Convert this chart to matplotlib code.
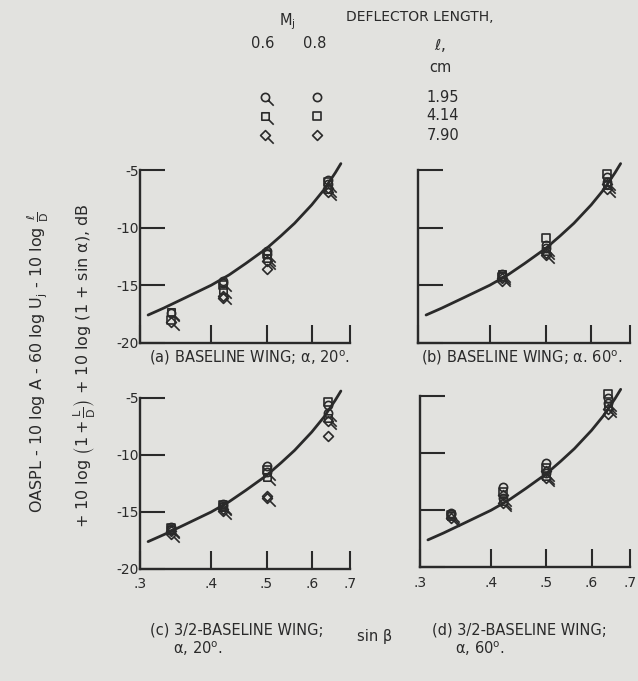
import numpy as np
import matplotlib
matplotlib.use('Agg')
import matplotlib.pyplot as plt
from matplotlib.path import Path

plt.rcParams['font.family'] = ['DejaVu Sans']
plt.rcParams['mathtext.fontset'] = 'dejavusans'

INK = '#2a2a2a'
PAPER = '#e2e2df'

# faired curve, same on every panel
curve_sin = [0.31, 0.33, 0.36, 0.40, 0.43, 0.46, 0.50, 0.53, 0.56, 0.60, 0.63, 0.66, 0.675]
curve_db = [-17.6, -17.0, -16.1, -15.0, -14.1, -13.1, -11.8, -10.7, -9.6, -8.0, -6.7, -5.2, -4.4]

stations = [0.34, 0.42, 0.50, 0.64]
nan = np.nan

# order of each list: Mj 0.6 (circle, square, diamond), Mj 0.8 (circle, square, diamond)
panel_a = [[-17.4, -14.8, -12.3, -6.2], [-17.3, -15.4, -12.6, -6.6], [-18.2, -15.9, -12.9, -6.9],
           [nan, -14.6, -12.0, -5.8], [-18.0, -15.0, -12.3, -6.0], [nan, -16.1, -13.6, -6.5]]
panel_b = [[nan, -14.2, -11.8, -6.0], [nan, -14.0, -12.0, -6.3], [nan, -14.4, -12.4, -6.6],
           [nan, -14.0, -11.5, -5.6], [nan, -14.3, -10.9, -5.3], [nan, -14.6, -12.2, -6.2]]
panel_c = [[-16.5, -14.5, -11.5, -6.3], [-16.6, -14.6, -11.9, -6.8], [-16.9, -14.9, -13.8, -7.0],
           [-16.3, -14.3, -11.0, -5.6], [-16.4, -14.4, -11.3, -5.4], [-16.7, -14.7, -13.6, -8.3]]
panel_d = [[-15.3, -13.9, -11.7, -5.6], [-15.5, -14.2, -12.0, -5.9], [-15.7, -14.4, -12.2, -6.1],
           [-15.2, -13.0, -10.9, -5.2], [-15.4, -13.4, -11.3, -4.8], [nan, -13.7, -11.6, -6.6]]

captions = ['(a) BASELINE WING; α, 20$^\\mathrm{o}$.',
            '(b) BASELINE WING; α. 60$^\\mathrm{o}$.',
            '(c) 3/2-BASELINE WING;\n     α, 20$^\\mathrm{o}$.',
            '(d) 3/2-BASELINE WING;\n     α, 60$^\\mathrm{o}$.']
legend_lengths = ['1.95', '4.14', '7.90']
xtick_vals = [0.3, 0.4, 0.5, 0.6, 0.7]
xtick_labels = ['.3', '.4', '.5', '.6', '.7']
ytick_vals = [-20, -15, -10, -5]


def shape(kind, tail):
    if kind == 'o':
        p = Path.unit_circle()
    elif kind == 's':
        p = Path([(-0.9, -0.9), (0.9, -0.9), (0.9, 0.9), (-0.9, 0.9), (-0.9, -0.9)],
                 [Path.MOVETO, Path.LINETO, Path.LINETO, Path.LINETO, Path.CLOSEPOLY])
    else:
        p = Path([(0, -1.2), (1.2, 0), (0, 1.2), (-1.2, 0), (0, -1.2)],
                 [Path.MOVETO, Path.LINETO, Path.LINETO, Path.LINETO, Path.CLOSEPOLY])
    if tail:
        t = Path([(0.7, -0.7), (2.0, -2.0)], [Path.MOVETO, Path.LINETO])
    else:
        # invisible anchor points so every marker is scaled alike
        t = Path([(2.0, -2.0), (-2.0, 2.0)], [Path.MOVETO, Path.MOVETO])
    return Path.make_compound_path(p, t)


kinds = ['o', 's', 'D']
markers = [shape(k, True) for k in kinds] + [shape(k, False) for k in kinds]
MS = 11.8

fig = plt.figure(figsize=(6.38, 6.81), dpi=100, facecolor=PAPER)

positions = [[0.2194, 0.497, 0.329, 0.2695], [0.655, 0.497, 0.332, 0.2695],
             [0.2194, 0.1645, 0.329, 0.268], [0.658, 0.167, 0.329, 0.268]]
panels = [panel_a, panel_b, panel_c, panel_d]

for i, (pos, data) in enumerate(zip(positions, panels)):
    ax = fig.add_axes(pos)
    ax.set_facecolor(PAPER)
    ax.set_xscale('log')
    ax.set_xlim(0.3, 0.7)
    ax.set_ylim(-20, -4)
    ax.plot(curve_sin, curve_db, color=INK, lw=2.0, solid_capstyle='round', zorder=3)
    for j, vals in enumerate(data):
        ax.plot(stations, vals, linestyle='none', marker=markers[j], ms=MS,
                mfc='none', mec=INK, mew=1.2, zorder=4)
    for s in ['top', 'right']:
        ax.spines[s].set_visible(False)
    ax.spines['left'].set_bounds(-20, -5)
    for s in ['left', 'bottom']:
        ax.spines[s].set_linewidth(1.7)
        ax.spines[s].set_color(INK)
    ax.set_xticks(xtick_vals)
    ax.xaxis.set_minor_locator(matplotlib.ticker.NullLocator())
    ax.set_yticks(ytick_vals)
    ax.tick_params(axis='x', direction='in', length=13, width=1.5, color=INK,
                   labelsize=10, labelcolor=INK, pad=6)
    ax.tick_params(axis='y', direction='in', length=18, width=1.5, color=INK,
                   labelsize=10, labelcolor=INK, pad=1)
    if i >= 2:
        ax.set_xticklabels(xtick_labels)
    else:
        ax.set_xticklabels([])
    if i % 2 == 0:
        ax.set_yticklabels([str(v) for v in ytick_vals])
    else:
        ax.set_yticklabels([])

# captions
fig.text(250 / 638, 1 - 358 / 681, captions[0], ha='center', va='center', fontsize=10.5, color=INK)
fig.text(522 / 638, 1 - 358 / 681, captions[1], ha='center', va='center', fontsize=10.5, color=INK)
fig.text(150 / 638, 1 - 640 / 681, captions[2], ha='left', va='center', fontsize=10.5, color=INK,
         linespacing=1.1)
fig.text(432 / 638, 1 - 640 / 681, captions[3], ha='left', va='center', fontsize=10.5, color=INK,
         linespacing=1.1)

fig.text(375 / 638, 1 - 636 / 681, 'sin β', ha='center', va='center', fontsize=10.5, color=INK)

# y label (two lines)
fig.text(38 / 638, 1 - 362 / 681,
         'OASPL - 10 log A - 60 log U$_\\mathrm{j}$ - 10 log $\\frac{\\ell}{\\mathrm{D}}$',
         rotation=90, ha='center', va='center', fontsize=11.5, color=INK)
fig.text(84 / 638, 1 - 366 / 681,
         '+ 10 log $\\left(1 + \\frac{\\mathrm{L}}{\\mathrm{D}}\\right)$ + 10 log (1 + sin α), dB',
         rotation=90, ha='center', va='center', fontsize=11.5, color=INK)

# legend block
fig.text(287 / 638, 1 - 22 / 681, 'M$_\\mathrm{j}$', ha='center', va='center', fontsize=10.5, color=INK)
fig.text(263 / 638, 1 - 43 / 681, '0.6', ha='center', va='center', fontsize=10.5, color=INK)
fig.text(315 / 638, 1 - 43 / 681, '0.8', ha='center', va='center', fontsize=10.5, color=INK)
fig.text(420 / 638, 1 - 17 / 681, 'DEFLECTOR LENGTH,', ha='center', va='center', fontsize=10, color=INK)
fig.text(440 / 638, 1 - 45 / 681, '$\\ell$,', ha='center', va='center', fontsize=11, color=INK)
fig.text(440 / 638, 1 - 68 / 681, 'cm', ha='center', va='center', fontsize=10.5, color=INK)

lax = fig.add_axes([0, 0, 1, 1], facecolor='none')
lax.set_xlim(0, 638)
lax.set_ylim(681, 0)
lax.axis('off')
legend_y = [97, 116, 135]
for k in range(3):
    lax.plot([265], [legend_y[k]], linestyle='none', marker=markers[k], ms=MS,
             mfc='none', mec=INK, mew=1.2)
    lax.plot([317], [legend_y[k]], linestyle='none', marker=markers[k + 3], ms=MS,
             mfc='none', mec=INK, mew=1.2)
    lax.text(443, legend_y[k], legend_lengths[k], ha='center', va='center', fontsize=10.5, color=INK)

fig.savefig('out.png', dpi=100, facecolor=PAPER)
